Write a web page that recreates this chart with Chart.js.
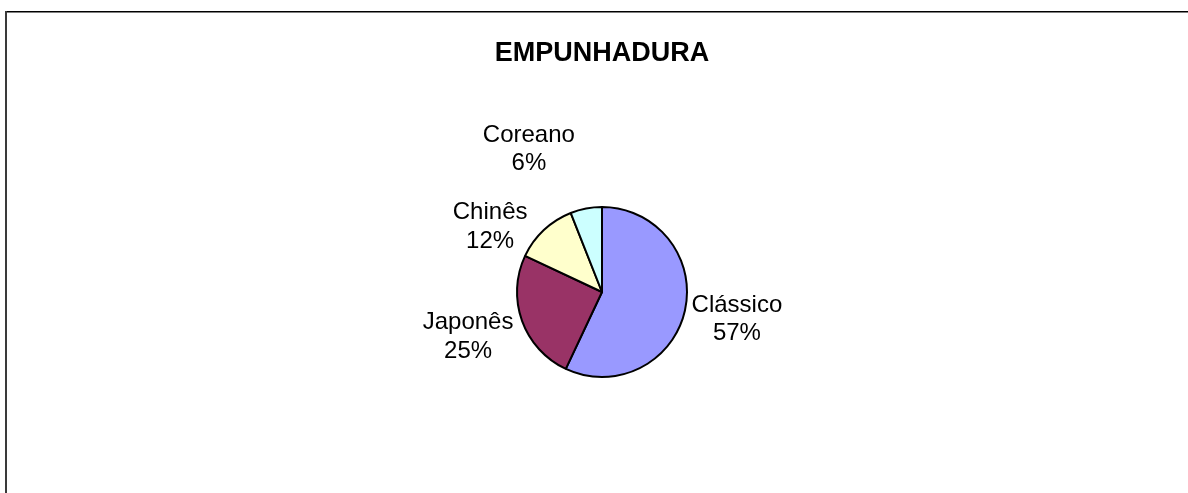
<!DOCTYPE html>
<html>
<head>
<meta charset="utf-8">
<script src="https://cdn.jsdelivr.net/npm/chart.js@4"></script>
<style>
  html, body { margin: 0; padding: 0; background: #fff; }
  #box { width: 1188px; height: 493px; }
</style>
</head>
<body>
<div id="box"><canvas id="chart"></canvas></div>
<script>
const categories = ['Clássico', 'Japonês', 'Chinês', 'Coreano'];
const shares = [57, 25, 12, 6];
const sliceColors = ['#9999FF', '#993366', '#FFFFCC', '#CCFFFF'];

// where each label sits, relative to the middle of its slice's rim
const labelShift = [[51, 1], [-53, 8], [-53, -10], [-57, -66]];

const frame = {
  id: 'frame',
  beforeDraw(chart) {
    const ctx = chart.ctx;
    ctx.save();
    ctx.fillStyle = '#000';
    ctx.fillRect(5, 11, 1183, 1.5);
    ctx.fillStyle = '#3a3a3a';
    ctx.fillRect(5, 11, 2, 482);
    ctx.restore();
  },
};

const sliceLabels = {
  id: 'sliceLabels',
  afterDatasetsDraw(chart) {
    const ctx = chart.ctx;
    const total = shares.reduce((a, b) => a + b, 0);
    ctx.save();
    ctx.font = '24px "Liberation Sans", Arial, sans-serif';
    ctx.fillStyle = '#000';
    ctx.textAlign = 'center';
    ctx.textBaseline = 'alphabetic';
    chart.getDatasetMeta(0).data.forEach((arc, i) => {
      const p = arc.getProps(['x', 'y', 'startAngle', 'endAngle', 'outerRadius'], true);
      const mid = (p.startAngle + p.endAngle) / 2;
      const r = p.outerRadius + 1;
      const x = p.x + Math.cos(mid) * r + labelShift[i][0];
      const y = p.y + Math.sin(mid) * r + labelShift[i][1];
      ctx.fillText(categories[i], x, y);
      ctx.fillText(Math.round(shares[i] / total * 100) + '%', x, y + 28.5);
    });
    ctx.restore();
  },
};

new Chart(document.querySelector('#chart').getContext('2d'), {
  type: 'pie',
  data: {
    labels: categories,
    datasets: [
      {
        data: shares,
        backgroundColor: sliceColors,
        borderColor: '#000',
        borderWidth: 2,
      },
    ],
  },
  options: {
    responsive: true,
    maintainAspectRatio: false,
    animation: false,
    radius: 85,
    layout: {
      padding: { left: 16, right: 0, top: 0, bottom: 109 },
    },
    plugins: {
      legend: { display: false },
      tooltip: { enabled: false },
      title: {
        display: true,
        text: 'EMPUNHADURA',
        color: '#000',
        font: { family: '"Liberation Sans", Arial, sans-serif', size: 27, weight: 'bold', lineHeight: 1.2 },
        padding: { top: 37, bottom: 130.6 },
      },
    },
  },
  plugins: [frame, sliceLabels],
});
</script>
</body>
</html>
